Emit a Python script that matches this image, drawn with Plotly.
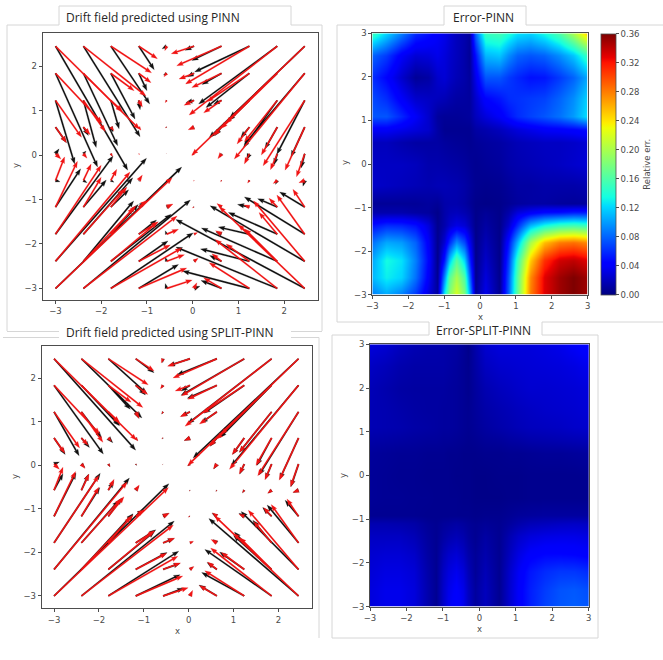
import plotly.graph_objects as go

W, H = 663, 660

# Arrow tails of the quiver grid
grid_x = [-3.0, -2.39, -1.79, -1.18, -0.57, 0.03, 0.63, 1.24, 1.85, 2.45]
grid_y = [2.45, 1.84, 1.23, 0.63, 0.03, -0.57, -1.17, -1.78, -2.39, -3.0]

# True drift field (rows follow grid_y, columns follow grid_x)
true_u = [
    [1.84, 1.37, 0.89, 0.41, -0.04, -0.50, -0.98, -1.40, -1.93, -2.47],
    [1.02, 0.85, 0.51, 0.27, -0.06, -0.33, -0.65, -0.93, -1.23, -1.54],
    [0.57, 0.48, 0.25, 0.08, -0.03, -0.22, -0.39, -0.52, -0.72, -0.91],
    [0.24, 0.15, 0.07, 0.05, -0.03, -0.13, -0.16, -0.27, -0.35, -0.43],
    [0.12, 0.08, 0.04, 0.02, -0.01, -0.05, -0.08, -0.11, -0.15, -0.18],
    [0.20, 0.17, 0.13, 0.08, 0.02, -0.01, -0.02, -0.04, -0.09, -0.13],
    [0.48, 0.39, 0.35, 0.18, 0.14, -0.04, -0.10, -0.12, -0.18, -0.26],
    [1.00, 0.88, 0.50, 0.43, 0.26, 0.08, -0.13, -0.25, -0.40, -0.61],
    [1.63, 1.15, 1.02, 0.69, 0.39, 0.09, -0.21, -0.51, -0.71, -1.12],
    [2.55, 2.05, 1.55, 1.05, 0.56, 0.06, -0.39, -0.88, -1.36, -1.87],
]
true_v = [
    [-1.87, -1.12, -0.60, -0.28, -0.10, -0.17, -0.44, -0.85, -1.55, -2.45],
    [-1.12, -0.87, -0.39, -0.21, -0.08, -0.13, -0.32, -0.64, -1.24, -1.93],
    [-0.83, -0.70, -0.24, -0.15, -0.05, -0.11, -0.28, -0.52, -0.93, -1.47],
    [-0.35, -0.17, -0.08, -0.07, -0.02, -0.06, -0.19, -0.38, -0.63, -0.97],
    [-0.12, -0.10, -0.06, -0.02, -0.01, -0.04, -0.11, -0.23, -0.36, -0.52],
    [0.53, 0.37, 0.25, 0.12, 0.03, -0.02, -0.03, -0.06, -0.07, -0.05],
    [1.03, 0.67, 0.45, 0.15, 0.07, -0.02, 0.08, 0.05, 0.20, 0.40],
    [1.55, 1.01, 0.60, 0.28, 0.11, 0.04, 0.08, 0.22, 0.49, 0.88],
    [2.01, 1.25, 0.88, 0.37, 0.15, 0.07, 0.17, 0.39, 0.73, 1.36],
    [2.49, 1.63, 0.91, 0.46, 0.19, 0.13, 0.24, 0.58, 1.10, 1.84],
]

# Field predicted by the PINN
pinn_u = [
    [1.58, 1.24, 0.85, 0.34, -0.10, -0.20, -0.65, -1.20, -1.72, -2.09],
    [0.92, 0.75, 0.53, 0.18, -0.07, -0.15, -0.43, -0.95, -1.04, -1.32],
    [0.42, 0.28, 0.18, 0.03, -0.02, -0.18, -0.18, -0.45, -0.74, -0.61],
    [0.24, 0.11, 0.05, 0.01, -0.02, -0.09, -0.14, -0.19, -0.27, -0.30],
    [0.08, 0.06, 0.02, 0.01, -0.01, -0.02, -0.03, -0.06, -0.07, -0.08],
    [0.10, 0.08, 0.07, 0.03, 0.01, -0.01, -0.01, -0.02, -0.04, -0.04],
    [0.55, 0.50, 0.39, 0.15, 0.10, -0.02, -0.05, -0.26, -0.43, -0.55],
    [1.26, 1.08, 0.60, 0.39, -0.03, 0.03, -0.12, -0.68, -1.07, -1.32],
    [1.99, 1.10, 1.32, 0.64, -0.03, 0.05, -0.26, -1.07, -1.66, -2.07],
    [2.76, 2.34, 1.80, 0.87, -0.03, 0.13, -0.45, -1.46, -2.22, -2.82],
]
pinn_v = [
    [-2.79, -2.04, -1.30, -0.53, -0.06, -0.09, -0.32, -0.58, -1.30, -2.06],
    [-2.11, -1.63, -1.03, -0.39, -0.04, -0.08, -0.25, -0.77, -1.00, -1.60],
    [-1.43, -1.06, -0.64, -0.21, -0.02, -0.05, -0.09, -0.45, -1.06, -1.21],
    [-0.35, -0.19, -0.11, -0.03, -0.01, -0.05, -0.19, -0.24, -0.49, -0.67],
    [0.11, 0.06, -0.05, -0.01, -0.01, -0.01, -0.08, -0.14, -0.25, -0.32],
    [-0.03, -0.05, -0.04, -0.02, 0.01, -0.01, -0.02, -0.04, -0.09, -0.13],
    [0.86, 0.61, 0.39, 0.12, 0.05, 0.00, 0.02, 0.06, 0.19, 0.34],
    [1.76, 1.27, 0.67, 0.32, 0.08, 0.02, 0.05, 0.16, 0.49, 0.84],
    [2.32, 1.36, 1.06, 0.46, 0.09, 0.05, 0.13, 0.28, 0.75, 1.25],
    [2.73, 1.99, 1.25, 0.54, 0.11, 0.05, 0.18, 0.39, 0.93, 1.55],
]

# Field predicted by the SPLIT-PINN
split_u = [
    [1.82, 1.35, 0.86, 0.41, -0.01, -0.48, -0.89, -1.41, -1.87, -2.35],
    [1.10, 0.85, 0.49, 0.22, -0.04, -0.20, -0.66, -0.90, -1.15, -1.50],
    [0.56, 0.45, 0.25, 0.07, -0.03, -0.20, -0.35, -0.50, -0.72, -0.88],
    [0.25, 0.18, 0.10, 0.04, -0.02, -0.13, -0.15, -0.26, -0.33, -0.42],
    [0.12, 0.08, 0.04, 0.02, -0.01, -0.05, -0.07, -0.10, -0.14, -0.17],
    [0.20, 0.16, 0.12, 0.07, 0.02, -0.01, -0.02, -0.04, -0.08, -0.12],
    [0.49, 0.41, 0.30, 0.17, 0.13, -0.03, -0.11, -0.12, -0.20, -0.30],
    [1.03, 0.83, 0.55, 0.45, 0.25, 0.06, -0.08, -0.22, -0.42, -0.70],
    [1.68, 1.15, 1.03, 0.70, 0.38, 0.07, -0.22, -0.55, -0.85, -1.28],
    [2.56, 2.07, 1.57, 0.99, 0.46, 0.04, -0.40, -0.95, -1.49, -2.00],
]
split_v = [
    [-2.10, -1.36, -0.80, -0.32, -0.09, -0.16, -0.37, -0.84, -1.49, -2.28],
    [-1.58, -0.93, -0.55, -0.22, -0.07, -0.13, -0.30, -0.64, -1.20, -1.85],
    [-1.01, -0.60, -0.30, -0.15, -0.05, -0.10, -0.25, -0.50, -0.93, -1.45],
    [-0.38, -0.22, -0.11, -0.06, -0.02, -0.06, -0.19, -0.38, -0.63, -0.95],
    [0.05, -0.08, -0.06, -0.03, -0.01, -0.04, -0.11, -0.23, -0.35, -0.52],
    [0.38, 0.37, 0.20, 0.09, 0.03, -0.02, -0.03, -0.06, -0.07, -0.05],
    [1.00, 0.66, 0.42, 0.17, 0.07, -0.01, 0.07, 0.07, 0.20, 0.37],
    [1.60, 0.97, 0.65, 0.30, 0.10, 0.02, 0.08, 0.25, 0.52, 0.87],
    [2.10, 1.28, 0.87, 0.39, 0.14, 0.06, 0.16, 0.40, 0.78, 1.33],
    [2.58, 1.72, 1.03, 0.49, 0.18, 0.09, 0.25, 0.54, 1.07, 1.78],
]

# Relative error maps (rows follow err_y, columns follow err_x)
err_x = [-3, -2.6, -2.2, -1.8, -1.45, -1.2, -1.0, -0.85, -0.65, -0.45, -0.3, -0.12, 0.15, 0.55, 0.8, 1.05, 1.4, 1.8, 2.2, 2.6, 3]
err_y = [-3, -2.6, -2.2, -1.8, -1.4, -1.1, -0.9, -0.5, 0, 0.5, 0.8, 1.1, 1.5, 2, 2.5, 3]

err_pinn = [
    [.090, .105, .090, .065, .030, .010, .130, .185, .220, .180, .110, .008, .035, .006, .080, .170, .280, .330, .350, .360, .350],
    [.110, .130, .120, .085, .040, .006, .095, .165, .200, .160, .085, .005, .030, .005, .075, .165, .275, .330, .350, .360, .350],
    [.105, .135, .125, .090, .045, .004, .055, .115, .165, .120, .060, .004, .024, .004, .065, .150, .250, .310, .335, .340, .330],
    [.085, .105, .100, .080, .040, .005, .028, .060, .095, .070, .038, .004, .018, .004, .050, .110, .200, .255, .280, .285, .275],
    [.050, .060, .058, .050, .030, .005, .015, .025, .033, .028, .018, .004, .012, .004, .025, .060, .110, .135, .150, .155, .150],
    [.015, .015, .015, .012, .010, .004, .014, .018, .020, .016, .012, .004, .008, .004, .014, .030, .040, .048, .050, .055, .055],
    [.008, .008, .008, .008, .010, .008, .014, .015, .015, .012, .008, .004, .003, .004, .007, .010, .012, .012, .010, .009, .010],
    [.024, .022, .020, .018, .016, .018, .018, .017, .016, .013, .010, .006, .005, .006, .009, .012, .012, .014, .014, .014, .016],
    [.022, .022, .022, .020, .015, .015, .014, .013, .012, .010, .008, .006, .008, .010, .014, .016, .018, .020, .022, .025, .028],
    [.020, .020, .015, .012, .012, .012, .010, .009, .008, .007, .006, .008, .010, .012, .015, .018, .020, .022, .022, .024, .028],
    [.040, .040, .035, .030, .025, .012, .006, .006, .006, .006, .006, .012, .015, .020, .025, .030, .035, .040, .042, .045, .050],
    [.075, .075, .058, .040, .025, .010, .008, .008, .008, .009, .010, .020, .030, .040, .050, .060, .068, .075, .085, .100, .125],
    [.070, .060, .040, .025, .022, .020, .018, .015, .012, .011, .010, .025, .045, .052, .060, .062, .065, .068, .080, .095, .120],
    [.060, .045, .025, .008, .012, .025, .028, .023, .018, .014, .010, .035, .075, .075, .065, .058, .050, .052, .065, .080, .105],
    [.080, .065, .040, .028, .030, .035, .030, .025, .020, .014, .008, .050, .110, .115, .095, .080, .075, .080, .095, .115, .150],
    [.150, .120, .090, .060, .050, .040, .035, .028, .020, .015, .010, .080, .150, .155, .140, .125, .120, .135, .160, .200, .250],
]

err_split = [
    [.030, .035, .035, .030, .015, .006, .024, .036, .045, .036, .022, .010, .020, .006, .025, .040, .055, .068, .075, .078, .075],
    [.030, .035, .035, .030, .015, .006, .024, .034, .042, .034, .021, .010, .020, .006, .025, .040, .055, .066, .074, .076, .072],
    [.028, .032, .032, .028, .014, .006, .022, .030, .036, .029, .018, .008, .018, .006, .024, .038, .052, .060, .064, .064, .060],
    [.026, .028, .028, .024, .012, .006, .018, .024, .028, .022, .014, .008, .015, .006, .020, .032, .042, .046, .046, .045, .042],
    [.022, .022, .022, .018, .010, .006, .012, .015, .018, .015, .010, .006, .012, .006, .016, .024, .030, .033, .034, .034, .032],
    [.016, .016, .015, .013, .008, .006, .009, .010, .012, .010, .008, .006, .008, .006, .010, .014, .018, .020, .022, .023, .022],
    [.006, .006, .006, .006, .005, .005, .005, .005, .005, .005, .005, .004, .005, .005, .007, .009, .010, .011, .011, .011, .011],
    [.008, .007, .007, .006, .006, .005, .005, .005, .005, .004, .004, .003, .003, .003, .004, .004, .005, .005, .005, .005, .005],
    [.008, .007, .006, .006, .005, .005, .005, .005, .004, .004, .004, .003, .003, .004, .004, .004, .005, .005, .005, .005, .006],
    [.009, .008, .007, .007, .006, .006, .006, .005, .005, .004, .004, .004, .005, .005, .006, .006, .007, .008, .008, .009, .010],
    [.013, .012, .011, .010, .009, .009, .008, .008, .007, .006, .005, .006, .008, .009, .011, .012, .014, .015, .016, .017, .018],
    [.017, .016, .015, .013, .012, .011, .010, .010, .009, .007, .006, .008, .011, .014, .016, .018, .020, .021, .022, .024, .025],
    [.017, .016, .014, .012, .011, .011, .010, .010, .009, .007, .006, .009, .013, .016, .018, .020, .022, .024, .025, .026, .028],
    [.018, .015, .012, .011, .011, .011, .011, .010, .009, .007, .005, .010, .016, .020, .022, .024, .026, .026, .027, .028, .030],
    [.022, .019, .015, .013, .013, .013, .013, .012, .010, .007, .005, .012, .021, .025, .026, .027, .028, .029, .030, .032, .036],
    [.030, .027, .021, .017, .015, .015, .014, .013, .012, .008, .004, .014, .026, .030, .030, .030, .030, .032, .035, .040, .045],
]

colorbar_ticks = [0, .04, .08, .12, .16, .20, .24, .28, .32, .36]
axis_ticks = [-3, -2, -1, 0, 1, 2]
map_ticks = [-3, -2, -1, 0, 1, 2, 3]

JET = [
    [0, "#00007f"], [.11, "#0000fa"], [.125, "#0000ff"], [.34, "#00dbff"], [.375, "#14ffe2"],
    [.64, "#eeff08"], [.66, "#ffec00"], [.89, "#ff1300"], [.91, "#e80000"], [1, "#7f0000"],
]

TICK_FONT = dict(family="DejaVu Sans", size=8.5, color="#4a4a4a")
FRAME = "#4d4d4d"
WINDOW = "#d6d6d6"

# Plot-area boxes in page pixels: left, right, top, bottom
BOX_A = (42.7, 318.0, 33.3, 300.0)
BOX_B = (372.3, 587.7, 33.3, 294.7)
BOX_C = (41.7, 311.7, 346.0, 608.3)
BOX_D = (370.0, 588.7, 344.3, 606.7)


def dom_x(box):
    return [box[0] / W, box[1] / W]


def dom_y(box):
    return [1 - box[3] / H, 1 - box[2] / H]


def arrow_outlines(us, vs, box, xr, yr):
    """Quiver-style arrow polygons, separated by None, sized in pixels."""
    sx = (box[1] - box[0]) / (xr[1] - xr[0])
    sy = (box[3] - box[2]) / (yr[1] - yr[0])
    half_w, head_half, head_len, neck = 0.72, 2.3, 6.5, 5.8
    xs, ys = [], []
    for row, yt in zip(range(len(grid_y)), grid_y):
        for col, xt in zip(range(len(grid_x)), grid_x):
            dx, dy = us[row][col] * sx, vs[row][col] * sy
            length = (dx * dx + dy * dy) ** 0.5
            if length == 0:
                continue
            k = min(1.0, length / head_len)
            ex, ey = dx / length, dy / length
            nx, ny = -ey, ex
            along = [0, length - neck * k, length - head_len * k, length,
                     length - head_len * k, length - neck * k, 0]
            side = [half_w * k, half_w * k, head_half * k, 0,
                    -head_half * k, -half_w * k, -half_w * k]
            for a, s in zip(along, side):
                xs.append(xt + (a * ex + s * nx) / sx)
                ys.append(yt + (a * ey + s * ny) / sy)
            xs.append(None)
            ys.append(None)
    return xs, ys


def quiver_trace(us, vs, color, box, xr, yr, axes):
    xs, ys = arrow_outlines(us, vs, box, xr, yr)
    return go.Scatter(x=xs, y=ys, mode="lines", fill="toself", fillcolor=color,
                      line=dict(color=color, width=0.2), hoverinfo="skip",
                      showlegend=False, xaxis=axes[0], yaxis=axes[1])


fig = go.Figure()

range_ax, range_ay = [-3.28, 2.74], [-3.26, 2.74]
range_cx, range_cy = [-3.275, 2.743], [-3.283, 2.743]

fig.add_trace(quiver_trace(pinn_u, pinn_v, "#111111", BOX_A, range_ax, range_ay, ("x", "y")))
fig.add_trace(quiver_trace(true_u, true_v, "#f01414", BOX_A, range_ax, range_ay, ("x", "y")))
fig.add_trace(quiver_trace(split_u, split_v, "#111111", BOX_C, range_cx, range_cy, ("x3", "y3")))
fig.add_trace(quiver_trace(true_u, true_v, "#f01414", BOX_C, range_cx, range_cy, ("x3", "y3")))

fig.add_trace(go.Heatmap(
    x=err_x, y=err_y, z=err_pinn, zmin=0, zmax=0.36, zsmooth="best", colorscale=JET,
    xaxis="x2", yaxis="y2",
    colorbar=dict(
        x=601.3 / W, xanchor="left", xpad=0, ypad=0, thickness=15, thicknessmode="pixels",
        y=1 - BOX_B[3] / H, yanchor="bottom", len=(BOX_B[3] - BOX_B[2]) / H, lenmode="fraction",
        tickvals=colorbar_ticks, tickformat=".2f", ticks="outside", ticklen=3, tickwidth=0.8,
        tickcolor=FRAME, tickfont=TICK_FONT, outlinecolor=FRAME, outlinewidth=0.8,
        title=dict(text="Relative err.", side="right", font=dict(family="DejaVu Sans", size=8.5, color="#4a4a4a")),
    ),
))
fig.add_trace(go.Heatmap(
    x=err_x, y=err_y, z=err_split, zmin=0, zmax=0.36, zsmooth="best", colorscale=JET,
    showscale=False, xaxis="x4", yaxis="y4",
))


def axis(box_dom, anchor, ticks, rng):
    return dict(domain=box_dom, anchor=anchor, range=rng, tickmode="array", tickvals=ticks,
                ticks="outside", ticklen=3, tickwidth=0.8, tickcolor=FRAME, tickfont=TICK_FONT,
                showgrid=False, zeroline=False, showline=True, mirror=True,
                linecolor=FRAME, linewidth=1)


def px_x(v):
    return v / W


def px_y(v):
    return 1 - v / H


# Window outlines behind each panel, as page-pixel polylines
outlines = [
    [(7, 331), (7, 25), (59, 25), (59, 6), (291, 6), (291, 25), (322, 25), (322, 331)],
    [(7, 331.5), (59, 331.5)],
    [(291, 331.5), (322, 331.5)],
    [(3, 337.5), (59, 337.5)],
    [(291, 337.5), (319, 337.5), (319, 638)],
    [(337, 322), (337, 25), (444, 25), (444, 6), (526, 6), (526, 25), (663, 25)],
    [(337, 322), (429, 322), (429, 335), (332, 335), (332, 638), (598, 638), (598, 335), (542, 335), (542, 322), (663, 322)],
]
shapes = []
for poly in outlines:
    for (x0, y0), (x1, y1) in zip(poly[:-1], poly[1:]):
        shapes.append(dict(type="line", xref="paper", yref="paper", layer="below",
                           x0=px_x(x0), x1=px_x(x1), y0=px_y(y0), y1=px_y(y1),
                           line=dict(color=WINDOW, width=1)))

titles = [
    ("Drift field predicted using PINN", 153, 17),
    ("Error-PINN", 483, 17),
    ("Drift field predicted using SPLIT-PINN", 170.5, 332),
    ("Error-SPLIT-PINN", 483, 331),
]
labels = [
    ("y", 16, 166, -90), ("y", 345, 163, -90), ("x", 480, 317, 0),
    ("y", 15, 477, -90), ("x", 177, 631, 0), ("y", 343, 476, -90), ("x", 479, 629, 0),
]
annotations = []
for text, ax_px, ay_px in titles:
    annotations.append(dict(text=text, x=px_x(ax_px), y=px_y(ay_px), xref="paper", yref="paper",
                            showarrow=False, xanchor="center", yanchor="middle",
                            font=dict(family="Open Sans", size=12, color="#262626")))
for text, ax_px, ay_px, angle in labels:
    annotations.append(dict(text=text, x=px_x(ax_px), y=px_y(ay_px), xref="paper", yref="paper",
                            showarrow=False, textangle=angle, xanchor="center", yanchor="middle",
                            font=TICK_FONT))

fig.update_layout(
    width=W, height=H, autosize=False, margin=dict(l=0, r=0, t=0, b=0, pad=0, autoexpand=False),
    paper_bgcolor="white", plot_bgcolor="white", showlegend=False,
    shapes=shapes, annotations=annotations,
    xaxis=axis(dom_x(BOX_A), "y", axis_ticks, range_ax),
    yaxis=axis(dom_y(BOX_A), "x", axis_ticks, range_ay),
    xaxis2=axis(dom_x(BOX_B), "y2", map_ticks, [-3, 3]),
    yaxis2=axis(dom_y(BOX_B), "x2", map_ticks, [-3, 3]),
    xaxis3=axis(dom_x(BOX_C), "y3", axis_ticks, range_cx),
    yaxis3=axis(dom_y(BOX_C), "x3", axis_ticks, range_cy),
    xaxis4=axis(dom_x(BOX_D), "y4", map_ticks, [-3, 3]),
    yaxis4=axis(dom_y(BOX_D), "x4", map_ticks, [-3, 3]),
)

fig.write_html("out.html", config=dict(displayModeBar=False))
